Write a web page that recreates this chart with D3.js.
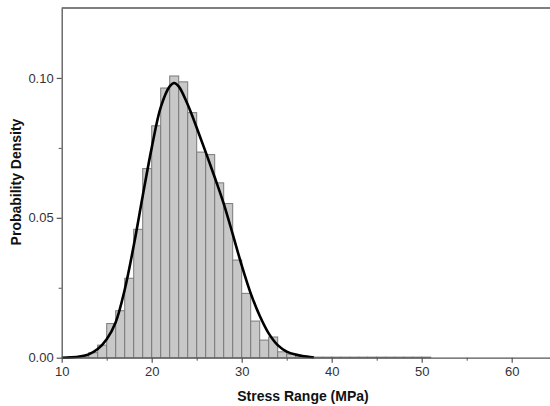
<!DOCTYPE html>
<html>
<head>
<meta charset="utf-8">
<script src="https://cdn.jsdelivr.net/npm/d3@7"></script>
<style>
body { margin: 0; background: #fff; }
svg { display: block; font-family: "Liberation Sans", Arial, sans-serif; }
.axis path, .axis line { stroke: #555; }
.axis text { fill: #333; font-size: 13px; }
</style>
</head>
<body>
<svg id="chart" width="550" height="406"></svg>
<script>
// histogram bins (left edge, MPa) and densities
var binStart = [12, 13, 14, 15, 16, 17, 18, 19, 20, 21, 22, 23, 24, 25, 26, 27, 28, 29, 30, 31, 32, 33, 34, 35, 36, 37,
  38, 39, 40, 41, 42, 43, 44, 45, 46, 47, 48, 49, 50];
var binDensity = [0.0006, 0.0018, 0.0045, 0.0122, 0.0168, 0.0284, 0.0459, 0.0676, 0.0829, 0.0964, 0.1007, 0.0986,
  0.0876, 0.0735, 0.0726, 0.0625, 0.0551, 0.0349, 0.0230, 0.0131, 0.0063, 0.0074, 0.0021, 0.0013, 0.0008, 0.0004,
  0.0002, 0.0002, 0.0002, 0.0002, 0.0002, 0.0002, 0.0002, 0.0002, 0.0002, 0.0002, 0.0002, 0.0002, 0.0002];
var binWidth = 1;

// fitted density curve
var curveX = [10, 11, 12, 13, 14, 15, 16, 17, 18, 19, 20, 21, 22, 22.5, 23, 24, 25, 26, 27, 28, 29, 30, 31, 32, 33, 34, 35, 36, 37, 38];
var curveY = [0, 0.0001, 0.0004, 0.0012, 0.0031, 0.0066, 0.0127, 0.0243, 0.0400, 0.0578, 0.0750, 0.0895, 0.0970, 0.0982,
  0.0970, 0.0905, 0.0822, 0.0735, 0.0645, 0.0551, 0.0442, 0.0330, 0.0230, 0.0150, 0.0087, 0.0045, 0.0022, 0.0011, 0.0005, 0.0001];

var xMajor = [10, 20, 30, 40, 50, 60];
var xMinor = [15, 25, 35, 45, 55];
var yMajor = [0, 0.05, 0.10];
var yMinor = [0.025, 0.075];

var svg = d3.select("#chart");
var margin = {top: 8, left: 61.7};
var plotH = 349.7;

var x = d3.scaleLinear().domain([10, 65]).range([margin.left, margin.left + 495]);
var y = d3.scaleLinear().domain([0, 0.125]).range([margin.top + plotH, margin.top]);

//bars
svg.append("g")
  .selectAll("rect")
  .data(binStart)
  .enter().append("rect")
  .attr("x", function(d) { return x(d); })
  .attr("width", function(d) { return x(d + binWidth) - x(d); })
  .attr("y", function(d, i) { return y(binDensity[i]); })
  .attr("height", function(d, i) { return y(0) - y(binDensity[i]); })
  .attr("fill", "#c8c8c8")
  .attr("stroke", "#7a7a7a")
  .attr("stroke-width", 1);

//fit curve
var line = d3.line()
  .x(function(d) { return x(d); })
  .y(function(d, i) { return y(curveY[i]); })
  .curve(d3.curveCatmullRom.alpha(0.5));

svg.append("path")
  .attr("d", line(curveX))
  .attr("fill", "none")
  .attr("stroke", "#000")
  .attr("stroke-width", 2.6);

//top frame line
svg.append("line")
  .attr("x1", x(10)).attr("x2", x(65))
  .attr("y1", y(0.125)).attr("y2", y(0.125))
  .attr("stroke", "#555").attr("stroke-width", 1.3);

//axes
var xAxis = svg.append("g")
  .attr("class", "axis")
  .attr("transform", "translate(0," + y(0) + ")")
  .call(d3.axisBottom(x).tickValues(xMajor).tickSize(5).tickSizeOuter(0).tickPadding(4).tickFormat(d3.format("d")));
xAxis.select(".domain").attr("stroke-width", 1.3);
xAxis.selectAll(".tick line").attr("stroke-width", 1.2);

svg.append("g")
  .attr("class", "axis")
  .attr("transform", "translate(0," + y(0) + ")")
  .call(d3.axisBottom(x).tickValues(xMinor).tickSize(3).tickSizeOuter(0).tickFormat(""))
  .select(".domain").remove();

var yAxis = svg.append("g")
  .attr("class", "axis")
  .attr("transform", "translate(" + x(10) + ",0)")
  .call(d3.axisLeft(y).tickValues(yMajor).tickSize(5).tickSizeOuter(0).tickPadding(3).tickFormat(d3.format(".2f")));
yAxis.select(".domain").attr("stroke-width", 1.3);
yAxis.selectAll(".tick line").attr("stroke-width", 1.2);

svg.append("g")
  .attr("class", "axis")
  .attr("transform", "translate(" + x(10) + ",0)")
  .call(d3.axisLeft(y).tickValues(yMinor).tickSize(3).tickSizeOuter(0).tickFormat(""))
  .select(".domain").remove();

//axis titles
svg.append("text")
  .attr("x", 303)
  .attr("y", 401)
  .attr("text-anchor", "middle")
  .attr("font-size", 14)
  .attr("font-weight", "bold")
  .attr("fill", "#111")
  .text("Stress Range (MPa)");

svg.append("text")
  .attr("transform", "translate(21," + 182 + ") rotate(-90)")
  .attr("text-anchor", "middle")
  .attr("font-size", 14)
  .attr("font-weight", "bold")
  .attr("fill", "#111")
  .text("Probability Density");
</script>
</body>
</html>
